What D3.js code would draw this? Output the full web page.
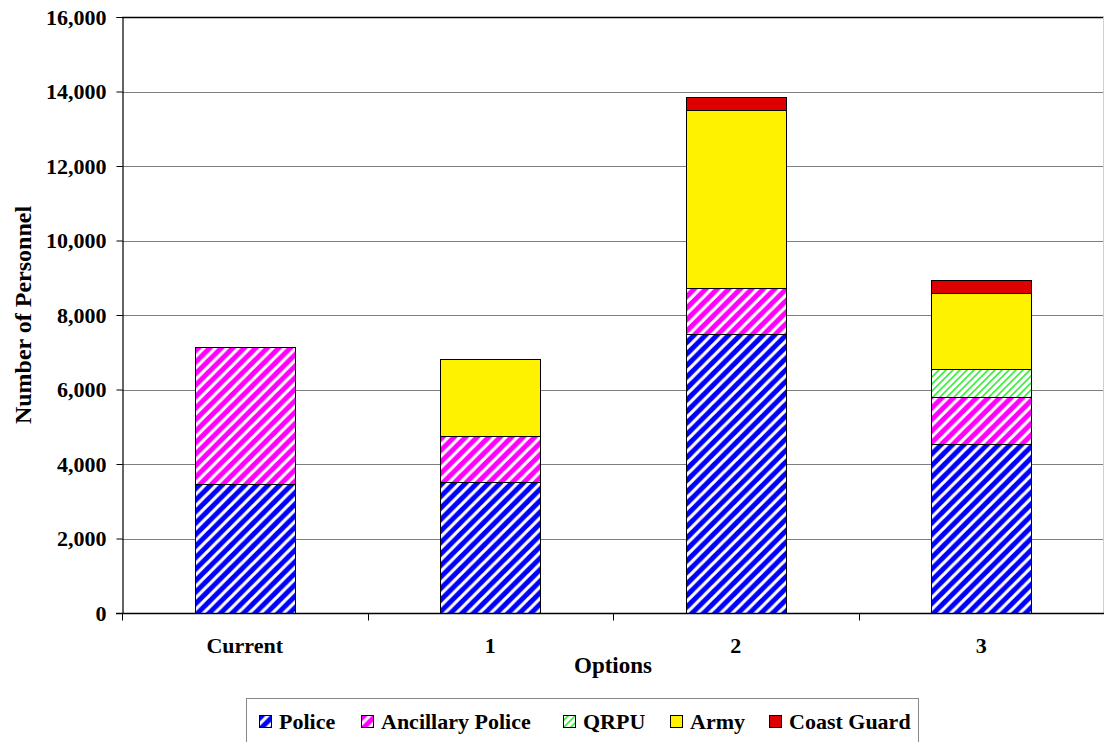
<!DOCTYPE html>
<html>
<head>
<meta charset="utf-8">
<script src="https://cdn.jsdelivr.net/npm/d3@7"></script>
<style>
  html, body { margin: 0; padding: 0; background: #fff; }
  svg { display: block; }
  svg text { font-family: "Liberation Serif", "Times New Roman", serif !important; font-weight: bold; fill: #000; }
</style>
</head>
<body>
<svg id="chart" width="1104" height="742"></svg>
<script>
// Personnel by option, stacked from the bottom up
const categories = ["Current", "1", "2", "3"];
const seriesNames = ["Police", "Ancillary Police", "QRPU", "Army", "Coast Guard"];
const police     = [3460, 3520, 7490, 4540];
const ancillary  = [3680, 1230, 1240, 1260];
const qrpu       = [0, 0, 0, 750];
const army       = [0, 2070, 4780, 2040];
const coastGuard = [0, 0, 350, 350];
const yTicks = [0, 2000, 4000, 6000, 8000, 10000, 12000, 14000, 16000];

const rows = categories.map((c, i) => ({
  option: c,
  "Police": police[i],
  "Ancillary Police": ancillary[i],
  "QRPU": qrpu[i],
  "Army": army[i],
  "Coast Guard": coastGuard[i]
}));

const svg = d3.select("#chart");
const plotLeft = 122, plotRight = 1104, plotTop = 17, plotBottom = 613;

const x = d3.scaleBand().domain(categories).range([plotLeft, plotRight])
  .paddingInner(0.593).paddingOuter(0.2965);
const y = d3.scaleLinear().domain([0, 16000]).range([plotBottom, plotTop]);

// Fill patterns: diagonal stripes over a solid colour
const defs = svg.append("defs");
function stripes(id, bg, fg, size, width) {
  const p = defs.append("pattern").attr("id", id)
    .attr("patternUnits", "userSpaceOnUse")
    .attr("width", size).attr("height", size);
  p.append("rect").attr("width", size).attr("height", size).attr("fill", bg);
  p.append("path")
    .attr("d", `M${-size/2},${size/2} L${size/2},${-size/2} M0,${size} L${size},0 M${size/2},${size*1.5} L${size*1.5},${size/2}`)
    .attr("stroke", fg).attr("stroke-width", width);
}
stripes("pPolice", "#0000ff", "#ffffff", 11.5, 3.2);
stripes("pAnc", "#ff00ff", "#ffffff", 11.5, 3.2);
stripes("pQrpu", "#ffffff", "#44ee44", 7, 1.8);

const fills = {
  "Police": "url(#pPolice)",
  "Ancillary Police": "url(#pAnc)",
  "QRPU": "url(#pQrpu)",
  "Army": "#fff200",
  "Coast Guard": "#dd0000"
};

// Horizontal gridlines
svg.append("g").selectAll("line")
  .data(yTicks.filter(t => t > 0))
  .join("line")
  .attr("x1", plotLeft).attr("x2", plotRight)
  .attr("y1", d => Math.round(y(d)) + 0.5).attr("y2", d => Math.round(y(d)) + 0.5)
  .attr("stroke", d => d === 16000 ? "#000" : "#7f7f7f")
  .attr("stroke-width", d => d === 16000 ? 1.5 : 1);

// Faint right border of the plot area
svg.append("line").attr("x1", plotRight - 0.5).attr("x2", plotRight - 0.5)
  .attr("y1", plotTop).attr("y2", plotBottom).attr("stroke", "#d0d0d0");

// Stacked bars
const stack = d3.stack().keys(seriesNames)(rows);
svg.append("g").selectAll("g")
  .data(stack)
  .join("g")
  .attr("fill", d => fills[d.key])
  .selectAll("rect")
  .data(d => d.filter(s => s[1] - s[0] > 0))
  .join("rect")
  .attr("x", d => Math.round(x(d.data.option)) + 0.5)
  .attr("width", Math.round(x.bandwidth()))
  .attr("y", d => Math.round(y(d[1])) + 0.5)
  .attr("height", d => Math.round(y(d[0])) - Math.round(y(d[1])))
  .attr("stroke", "#000")
  .attr("stroke-width", 1);

// Y axis
const yAxis = svg.append("g")
  .attr("transform", `translate(${plotLeft + 0.5},0)`)
  .call(d3.axisLeft(y).tickValues(yTicks).tickFormat(d3.format(",")).tickSize(6).tickPadding(10));
yAxis.select(".domain").attr("stroke", "#000").attr("stroke-width", 1.2);
yAxis.selectAll(".tick line").attr("stroke", "#000");
yAxis.selectAll(".tick text").attr("font-size", 22).attr("dy", "0.34em");

// X axis: ticks sit between categories
const xAxisG = svg.append("g").attr("transform", `translate(0,${plotBottom + 0.5})`);
xAxisG.append("line").attr("x1", plotLeft - 6).attr("x2", plotRight)
  .attr("stroke", "#000").attr("stroke-width", 1.5);
const boundaries = d3.range(categories.length + 1).map(i => plotLeft + i * x.step());
xAxisG.selectAll(".bt").data(boundaries).join("line").attr("class", "bt")
  .attr("x1", d => Math.round(d) + 0.5).attr("x2", d => Math.round(d) + 0.5)
  .attr("y1", 0).attr("y2", 7).attr("stroke", "#000");
xAxisG.selectAll("text").data(categories).join("text")
  .attr("x", d => x(d) + x.bandwidth() / 2)
  .attr("y", 39)
  .attr("text-anchor", "middle")
  .attr("font-size", 22)
  .text(d => d);

// Axis titles
svg.append("text")
  .attr("x", (plotLeft + plotRight) / 2)
  .attr("y", 673)
  .attr("text-anchor", "middle")
  .attr("font-size", 23)
  .text("Options");
svg.append("text")
  .attr("transform", `translate(31,${(plotTop + plotBottom) / 2}) rotate(-90)`)
  .attr("text-anchor", "middle")
  .attr("font-size", 24)
  .text("Number of Personnel");

// Legend
const lg = svg.append("g");
lg.append("rect").attr("x", 246.5).attr("y", 698.5).attr("width", 672).attr("height", 60)
  .attr("fill", "#fff").attr("stroke", "#888").attr("stroke-width", 1);
const legendX = [259, 361, 563, 670, 769];
const item = lg.selectAll("g.item").data(seriesNames).join("g").attr("class", "item")
  .attr("transform", (d, i) => `translate(${legendX[i]},0)`);
item.append("rect").attr("x", 0.5).attr("y", 715.5).attr("width", 12).attr("height", 12)
  .attr("fill", d => fills[d]).attr("stroke", "#000").attr("stroke-width", 1);
item.append("text").attr("x", 20).attr("y", 729).attr("font-size", 22).text(d => d);
</script>
</body>
</html>
